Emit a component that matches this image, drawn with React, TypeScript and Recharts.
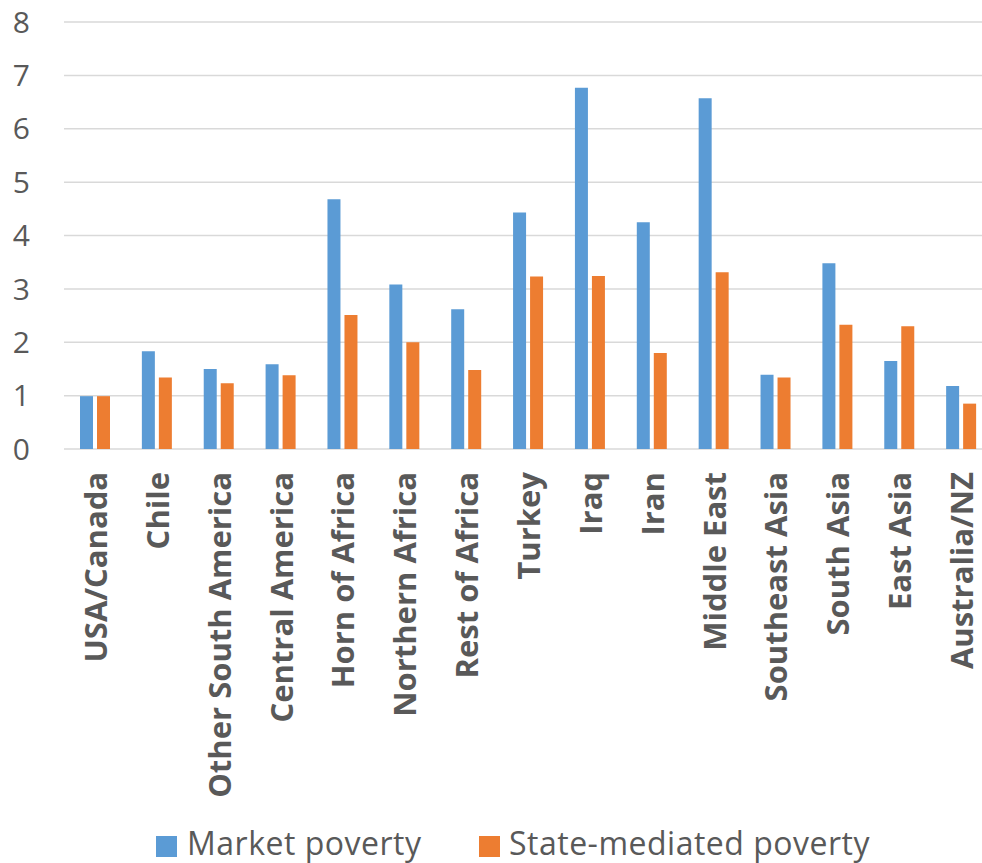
import { Bar, BarChart, CartesianGrid, XAxis, YAxis } from "recharts"

const regions = [
  "USA/Canada",
  "Chile",
  "Other South America",
  "Central America",
  "Horn of Africa",
  "Northern Africa",
  "Rest of Africa",
  "Turkey",
  "Iraq",
  "Iran",
  "Middle East",
  "Southeast Asia",
  "South Asia",
  "East Asia",
  "Australia/NZ",
]
const marketPoverty = [0.99, 1.83, 1.5, 1.59, 4.68, 3.08, 2.62, 4.43, 6.77, 4.25, 6.57, 1.39, 3.48, 1.65, 1.18]
const statePoverty = [0.99, 1.34, 1.23, 1.38, 2.51, 2.0, 1.48, 3.23, 3.24, 1.8, 3.31, 1.34, 2.33, 2.3, 0.85]
const yTicks = [0, 1, 2, 3, 4, 5, 6, 7, 8]

const data = regions.map((region, i) => ({
  region,
  market: marketPoverty[i],
  state: statePoverty[i],
}))

const BLUE = "#5b9bd5"
const ORANGE = "#ed7d31"
const TEXT = "#595959"
const FONT = "'Open Sans', sans-serif"

function RegionTick(props: any) {
  const { x, y, payload } = props
  return (
    <text
      x={x}
      y={y}
      transform={`rotate(-90, ${x}, ${y})`}
      textAnchor="end"
      dominantBaseline="central"
      fill={TEXT}
      fontFamily={FONT}
      fontWeight={700}
      fontSize={31}
    >
      {payload.value}
    </text>
  )
}

const legendText = {
  position: "absolute" as const,
  top: 827,
  fontFamily: FONT,
  fontSize: 32,
  letterSpacing: 0.5,
  lineHeight: "32px",
  color: TEXT,
  whiteSpace: "nowrap" as const,
}

export default function App() {
  return (
    <div
      style={{
        position: "fixed",
        left: 0,
        top: 0,
        width: 982,
        height: 863,
        overflow: "hidden",
        background: "#fff",
      }}
    >
      <BarChart
        width={1000}
        height={863}
        data={data}
        margin={{ top: 22, right: 8, bottom: 64, left: 0 }}
        barSize={13}
        barGap={4}
      >
        <CartesianGrid vertical={false} stroke="#d9d9d9" strokeWidth={1.5} />
        <XAxis
          dataKey="region"
          interval={0}
          height={350}
          axisLine={false}
          tickLine={false}
          tick={<RegionTick />}
          tickSize={0}
          tickMargin={23}
        />
        <YAxis
          width={64}
          domain={[0, 8]}
          ticks={yTicks}
          axisLine={false}
          tickLine={false}
          tickSize={0}
          tickMargin={34}
          tick={{ fill: TEXT, fontSize: 30, fontFamily: FONT }}
        />
        <Bar dataKey="market" name="Market poverty" fill={BLUE} isAnimationActive={false} />
        <Bar dataKey="state" name="State-mediated poverty" fill={ORANGE} isAnimationActive={false} />
      </BarChart>
      <span style={{ position: "absolute", left: 156, top: 836, width: 21, height: 21, background: BLUE }} />
      <span style={{ ...legendText, left: 187 }}>Market poverty</span>
      <span style={{ position: "absolute", left: 479, top: 836, width: 21, height: 21, background: ORANGE }} />
      <span style={{ ...legendText, left: 509 }}>State-mediated poverty</span>
    </div>
  )
}
